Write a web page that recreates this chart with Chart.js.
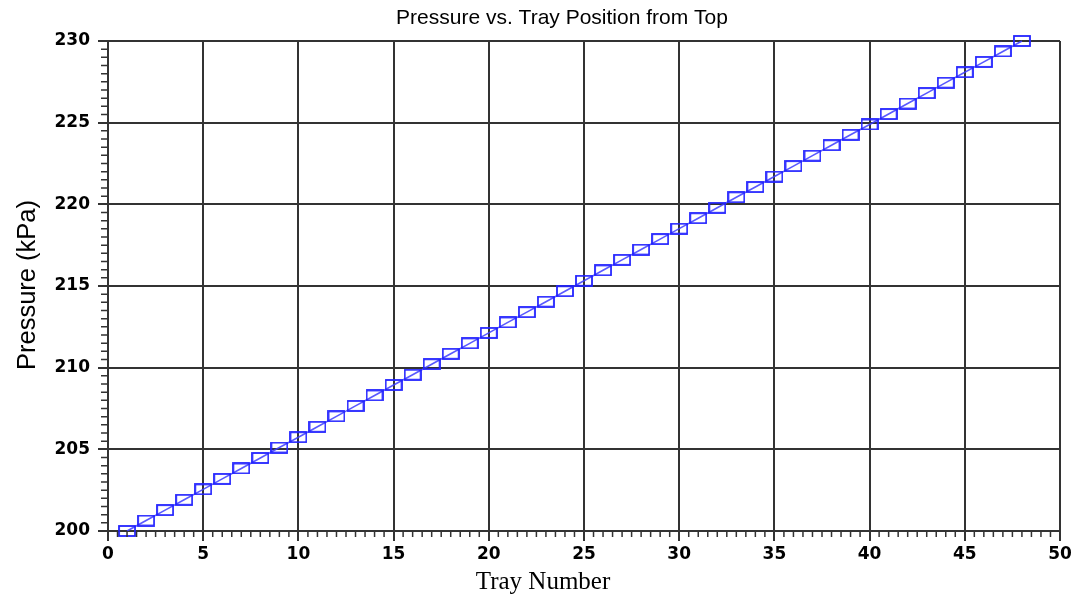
<!DOCTYPE html>
<html>
<head>
<meta charset="utf-8">
<title>Pressure vs. Tray Position from Top</title>
<script src="https://cdn.jsdelivr.net/npm/chart.js@4.4.1/dist/chart.umd.min.js"></script>
<style>
  html, body { margin: 0; padding: 0; background: #fff; }
  #wrap { position: relative; width: 1085px; height: 598px; }
</style>
</head>
<body>
<div id="wrap"><canvas id="chart"></canvas></div>
<script>
// data
const trayNumber = [
  1, 2, 3, 4, 5, 6, 7, 8, 9, 10, 11, 12, 13, 14, 15, 16,
  17, 18, 19, 20, 21, 22, 23, 24, 25, 26, 27, 28, 29, 30, 31, 32,
  33, 34, 35, 36, 37, 38, 39, 40, 41, 42, 43, 44, 45, 46, 47, 48
];
const pressureKPa = [
  200.00, 200.64, 201.28, 201.91, 202.55, 203.19, 203.83, 204.47,
  205.11, 205.74, 206.38, 207.02, 207.66, 208.30, 208.94, 209.57,
  210.21, 210.85, 211.49, 212.13, 212.77, 213.40, 214.04, 214.68,
  215.32, 215.96, 216.60, 217.23, 217.87, 218.51, 219.15, 219.79,
  220.43, 221.06, 221.70, 222.34, 222.98, 223.62, 224.26, 224.89,
  225.53, 226.17, 226.81, 227.45, 228.09, 228.72, 229.36, 230.00
];
const xRange = [0, 50];
const yRange = [200, 230];
const majorStep = 5;
const minorStep = 0.5;

const chartTitle = 'Pressure vs. Tray Position from Top';
const xTitle = 'Tray Number';
const yTitle = 'Pressure (kPa)';

// open rectangle marker
const marker = document.createElement('canvas');
marker.width = 18;
marker.height = 12;
(function () {
  const c = marker.getContext('2d');
  c.strokeStyle = '#2323ff';
  c.lineWidth = 1.8;
  c.strokeRect(1, 1, 16, 10);
})();

// minor ticks + titles
const extras = {
  id: 'extras',
  afterDraw(chart) {
    const ctx = chart.ctx;
    const area = chart.chartArea;
    const xs = chart.scales.x, ys = chart.scales.y;
    ctx.save();
    ctx.strokeStyle = '#333';
    ctx.lineWidth = 1.5;
    ctx.beginPath();
    for (let i = 0; i <= (xRange[1] - xRange[0]) / minorStep; i++) {
      const v = xRange[0] + i * minorStep;
      if (Math.abs(v / majorStep - Math.round(v / majorStep)) < 1e-6) continue;
      const px = xs.getPixelForValue(v);
      ctx.moveTo(px, area.bottom);
      ctx.lineTo(px, area.bottom + 6);
    }
    for (let i = 0; i <= (yRange[1] - yRange[0]) / minorStep; i++) {
      const v = yRange[0] + i * minorStep;
      if (Math.abs(v / majorStep - Math.round(v / majorStep)) < 1e-6) continue;
      const py = ys.getPixelForValue(v);
      ctx.moveTo(area.left, py);
      ctx.lineTo(area.left - 7, py);
    }
    ctx.stroke();

    ctx.fillStyle = '#000';
    ctx.textAlign = 'center';
    ctx.textBaseline = 'middle';
    ctx.font = '21px "Liberation Sans", Arial, sans-serif';
    ctx.fillText(chartTitle, 562, 18);
    ctx.font = '25px "Liberation Serif", "Times New Roman", serif';
    ctx.fillText(xTitle, 543, 582);
    ctx.translate(28, 285);
    ctx.rotate(-Math.PI / 2);
    ctx.font = '25.5px "Liberation Sans", Arial, sans-serif';
    ctx.fillText(yTitle, 0, 0);
    ctx.restore();
  }
};

const tickFont = { family: '"DejaVu Sans", sans-serif', size: 17, weight: 'bold' };

new Chart(document.getElementById('chart'), {
  type: 'scatter',
  data: {
    datasets: [{
      data: trayNumber.map((t, i) => ({ x: t, y: pressureKPa[i] })),
      showLine: true,
      borderColor: 'rgba(60,60,255,0.85)',
      borderWidth: 1.6,
      pointStyle: marker,
      pointRadius: 6,
      clip: false
    }]
  },
  options: {
    responsive: true,
    maintainAspectRatio: false,
    animation: false,
    layout: { padding: { top: 41, right: 25, left: 0, bottom: 0 } },
    plugins: { legend: { display: false }, tooltip: { enabled: false } },
    scales: {
      x: {
        type: 'linear',
        min: xRange[0],
        max: xRange[1],
        afterFit(s) { s.height = 67; },
        ticks: { stepSize: majorStep, color: '#000', font: tickFont, padding: 3, maxRotation: 0 },
        grid: { color: '#333', lineWidth: 2, tickLength: 10, tickColor: '#333' },
        border: { color: '#333', width: 2 }
      },
      y: {
        min: yRange[0],
        max: yRange[1],
        afterFit(s) { s.width = 108; },
        ticks: { stepSize: majorStep, color: '#000', font: tickFont, padding: 8 },
        grid: { color: '#333', lineWidth: 2, tickLength: 10, tickColor: '#333' },
        border: { color: '#333', width: 2 }
      }
    }
  },
  plugins: [extras]
});
</script>
</body>
</html>
